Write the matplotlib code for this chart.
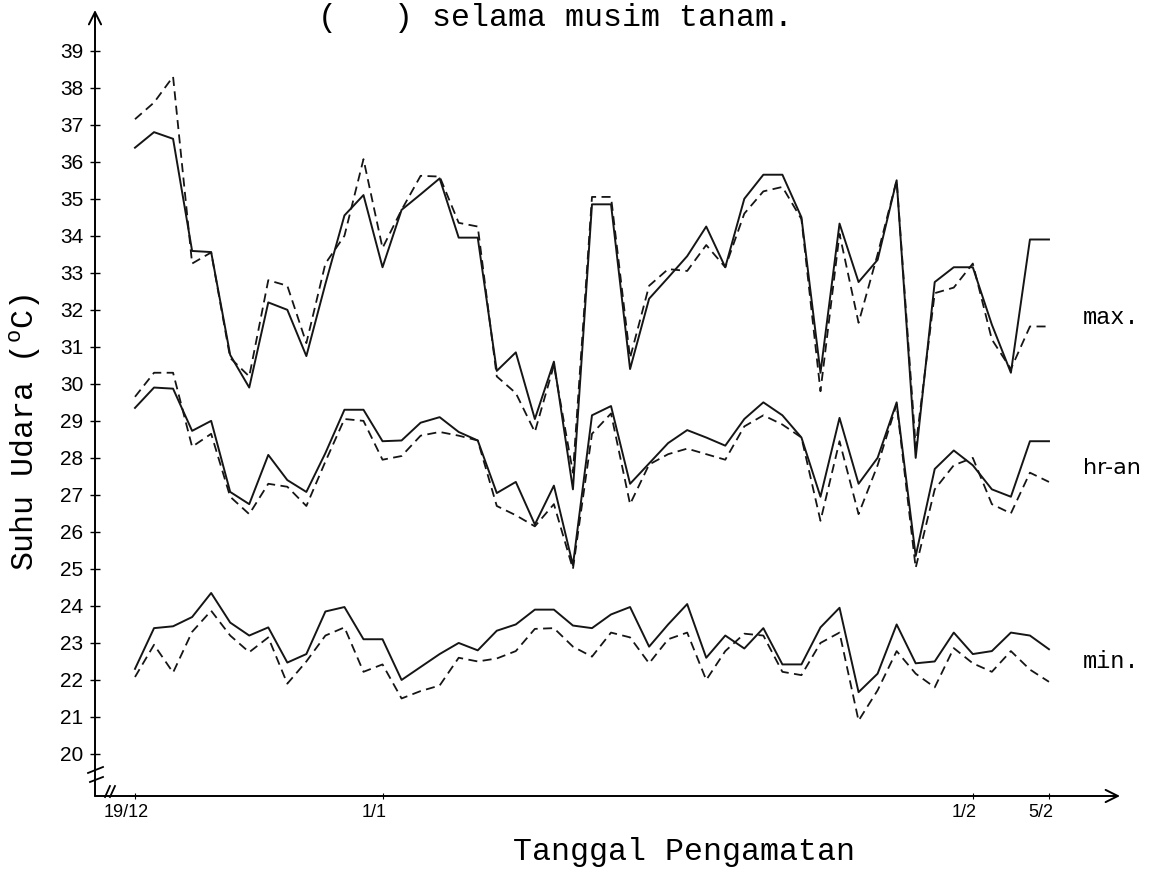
import numpy as np
import matplotlib
matplotlib.use('Agg')
import matplotlib.pyplot as plt
from matplotlib.transforms import ScaledTranslation

plt.rcParams['mathtext.fontset'] = 'custom'
plt.rcParams['mathtext.rm'] = 'Liberation Mono'

# hari pengamatan 19/12 .. 5/2 (49 hari)
hari = np.arange(49)
tgl_pos = [0, 13, 44, 48]
tgl_lbl = ['19/12', '1/1', '1/2', '5/2']

# suhu maksimum
max_a = [36.38, 36.8, 36.62, 33.59, 33.56, 30.78, 29.9, 32.2, 32.0, 30.75,
         32.7, 34.55, 35.1, 33.15, 34.7, 35.12, 35.55, 33.95, 33.95, 30.35,
         30.85, 29.05, 30.6, 27.15, 34.85, 34.85, 30.4, 32.3, 32.87, 33.45,
         34.25, 33.15, 35.0, 35.65, 35.65, 34.5, 30.3, 34.33, 32.75, 33.35,
         35.5, 28.0, 32.75, 33.15, 33.15, 31.6, 30.3, 33.9, 33.9]
max_b = [37.15, 37.6, 38.3, 33.25, 33.55, 30.7, 30.2, 32.8, 32.65, 31.1,
         33.25, 34.0, 36.07, 33.67, 34.7, 35.62, 35.6, 34.35, 34.25, 30.2,
         29.75, 28.7, 30.5, 27.6, 35.05, 35.05, 30.7, 32.65, 33.1, 33.05,
         33.75, 33.15, 34.6, 35.2, 35.32, 34.45, 29.8, 34.05, 31.65, 33.5,
         35.5, 28.3, 32.45, 32.6, 33.25, 31.2, 30.4, 31.55, 31.55]

# suhu rata-rata harian
rata_a = [29.35, 29.9, 29.87, 28.73, 29.0, 27.08, 26.75, 28.08, 27.4, 27.08,
          28.13, 29.3, 29.3, 28.45, 28.47, 28.95, 29.1, 28.7, 28.47, 27.05,
          27.35, 26.2, 27.25, 25.1, 29.15, 29.4, 27.3, 27.85, 28.4, 28.75,
          28.55, 28.33, 29.05, 29.5, 29.15, 28.55, 26.95, 29.08, 27.3, 28.0,
          29.5, 25.35, 27.7, 28.2, 27.8, 27.15, 26.95, 28.45, 28.45]
rata_b = [29.65, 30.3, 30.3, 28.3, 28.65, 26.95, 26.48, 27.3, 27.22, 26.7,
          27.9, 29.05, 29.0, 27.95, 28.05, 28.6, 28.7, 28.6, 28.47, 26.7,
          26.45, 26.15, 26.75, 25.0, 28.65, 29.2, 26.75, 27.82, 28.1, 28.25,
          28.1, 27.95, 28.85, 29.15, 28.9, 28.55, 26.3, 28.45, 26.48, 27.8,
          29.45, 25.03, 27.15, 27.8, 28.0, 26.75, 26.5, 27.6, 27.35]

# suhu minimum
min_a = [22.3, 23.4, 23.45, 23.7, 24.35, 23.55, 23.2, 23.42, 22.47, 22.7,
         23.85, 23.97, 23.1, 23.1, 22.0, 22.35, 22.7, 23.0, 22.8, 23.33,
         23.5, 23.9, 23.9, 23.47, 23.4, 23.77, 23.97, 22.9, 23.5, 24.05,
         22.6, 23.2, 22.85, 23.4, 22.42, 22.42, 23.42, 23.95, 21.67, 22.17,
         23.5, 22.45, 22.5, 23.28, 22.7, 22.78, 23.28, 23.2, 22.83]
min_b = [22.08, 22.95, 22.2, 23.3, 23.87, 23.2, 22.75, 23.15, 21.9, 22.5,
         23.2, 23.42, 22.22, 22.42, 21.5, 21.7, 21.85, 22.6, 22.5, 22.58,
         22.78, 23.38, 23.4, 22.9, 22.63, 23.28, 23.15, 22.45, 23.1, 23.28,
         22.0, 22.78, 23.25, 23.2, 22.22, 22.13, 23.0, 23.28, 20.9, 21.72,
         22.78, 22.17, 21.8, 22.86, 22.45, 22.22, 22.78, 22.28, 21.95]

W, H = 1168, 884
fig = plt.figure(figsize=(W / 100, H / 100), dpi=100)
ax = fig.add_axes([95 / W, 88 / H, 1025 / W, 786 / H])

hitam = '#151515'
for ya, yb in [(max_a, max_b), (rata_a, rata_b), (min_a, min_b)]:
    ax.plot(hari, ya, color=hitam, lw=1.4)
    ax.plot(hari, yb, color=hitam, lw=1.3, dashes=(5, 3))

ax.set_xlim(-2.1, 51.73)
ax.set_ylim(18.865, 40.1)
for s in ax.spines.values():
    s.set_visible(False)

ax.set_yticks(np.arange(20, 40))
ax.set_yticklabels([str(v) for v in range(20, 40)], family='Liberation Sans', fontsize=15)
ax.set_xticks(tgl_pos)
ax.set_xticklabels(tgl_lbl, family='Liberation Sans', fontsize=13)
ax.tick_params(axis='y', direction='inout', length=7, width=1.0, pad=5)
ax.tick_params(axis='x', direction='inout', length=4, width=0.8, pad=4)
geser = ScaledTranslation(-6 / 72, 0, fig.dpi_scale_trans)
for t in ax.get_xticklabels():
    t.set_transform(t.get_transform() + geser)

# sumbu dengan panah
ax.annotate('', xy=(0, 1), xytext=(0, 0), xycoords='axes fraction',
            arrowprops=dict(arrowstyle='->', lw=1.4, color='k',
                            shrinkA=0, shrinkB=0, mutation_scale=22))
ax.annotate('', xy=(1, 0), xytext=(0, 0), xycoords='axes fraction',
            arrowprops=dict(arrowstyle='->', lw=1.4, color='k',
                            shrinkA=0, shrinkB=0, mutation_scale=22))

# tanda potong sumbu
for xs, ys in [([-0.0068, 0.0078], [0.0293, 0.0369]),
               ([-0.0049, 0.0078], [0.0178, 0.0242]),
               ([0.0098, 0.0146], [-0.0013, 0.0127]),
               ([0.0146, 0.0195], [-0.0013, 0.0127])]:
    ax.plot(xs, ys, transform=ax.transAxes, clip_on=False, color='k', lw=1.3)

mono = 'Liberation Mono'
ax.text(49.8, 31.78, 'max.', family=mono, fontsize=17, va='center', clip_on=False)
ax.text(49.8, 27.73, 'hr-an', family='DejaVu Sans', fontsize=16, va='center', clip_on=False)
ax.text(49.8, 22.49, 'min.', family=mono, fontsize=17, va='center', clip_on=False)

fig.text(25 / W, 1 - 433 / H, r'Suhu Udara ($^{\rm o}$C)', family=mono, fontsize=22.8,
         rotation=90, ha='center', va='center')
fig.text(684 / W, 1 - 852 / H, 'Tanggal Pengamatan', family=mono, fontsize=22.8,
         ha='center', va='center')
fig.text(318 / W, 1 - 3 / H, '(   ) selama musim tanam.', family=mono, fontsize=22.8,
         ha='left', va='top')

fig.savefig('out.png', dpi=100)
